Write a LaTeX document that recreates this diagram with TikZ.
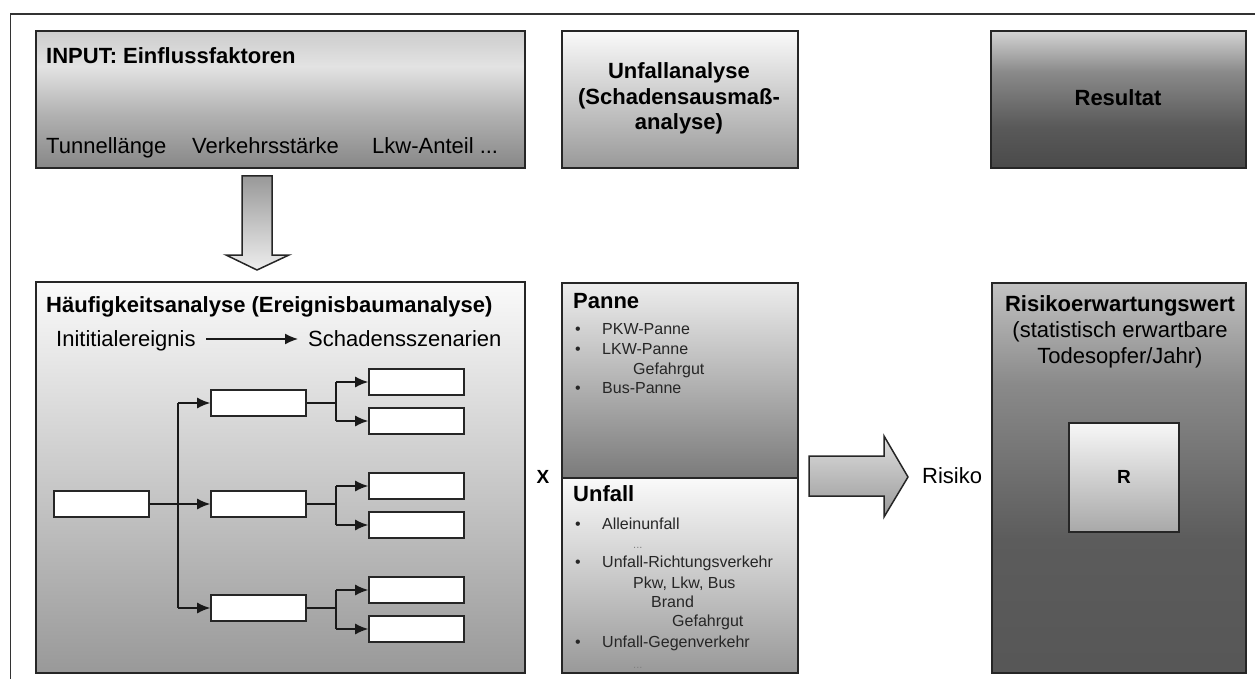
\documentclass[tikz,border=0pt]{standalone}
\usepackage{fontspec}
\setmainfont{Liberation Sans}
\usetikzlibrary{arrows.meta}
% vertical shadings: 25bp = bottom of path, 75bp = top of path
\pgfdeclareverticalshading{inshade}{100bp}{color(0bp)=(black!47); color(25bp)=(black!47); color(45bp)=(black!30); color(62bp)=(black!11); color(75bp)=(black!20); color(100bp)=(black!20)}
\pgfdeclareverticalshading{lightshade}{100bp}{color(0bp)=(black!40); color(25bp)=(black!40); color(75bp)=(black!2); color(100bp)=(black!2)}
\pgfdeclareverticalshading{resshade}{100bp}{color(0bp)=(black!71); color(25bp)=(black!71); color(40bp)=(black!65); color(60bp)=(black!46); color(75bp)=(black!17); color(100bp)=(black!17)}
\pgfdeclareverticalshading{panshade}{100bp}{color(0bp)=(black!52); color(25bp)=(black!52); color(75bp)=(black!7); color(100bp)=(black!7)}
\pgfdeclareverticalshading{riskshade}{100bp}{color(0bp)=(black!66); color(25bp)=(black!66); color(42bp)=(black!64); color(62bp)=(black!46); color(75bp)=(black!24); color(100bp)=(black!24)}
\pgfdeclareverticalshading{rboxshade}{100bp}{color(0bp)=(black!34); color(25bp)=(black!34); color(75bp)=(black!3); color(100bp)=(black!3)}
\pgfdeclareverticalshading{downshade}{100bp}{color(0bp)=(black!7); color(25bp)=(black!7); color(75bp)=(black!40); color(100bp)=(black!40)}
\pgfdeclareverticalshading{rightshade}{100bp}{color(0bp)=(black!40); color(25bp)=(black!40); color(75bp)=(black!13); color(100bp)=(black!13)}
\begin{document}
\begin{tikzpicture}[x=1pt,y=-1pt,
  bx/.style={draw=black!85, line width=1.7pt, inner sep=0pt, anchor=north west, shade, shading=#1},
  tb/.style={draw=black!85, line width=1.6pt, fill=white, inner sep=0pt, minimum width=95pt, minimum height=26pt},
  lbl/.style={inner sep=0pt, anchor=base west, font=\fontsize{22}{26}\selectfont},
  lblb/.style={inner sep=0pt, anchor=base west, font=\fontsize{22}{26}\selectfont\bfseries},
  ctr/.style={inner sep=0pt, anchor=base, font=\fontsize{22}{26}\selectfont},
  ctrb/.style={inner sep=0pt, anchor=base, font=\fontsize{22}{26}\selectfont\bfseries},
  itm/.style={inner sep=0pt, anchor=base west, font=\fontsize{16}{19}\selectfont, text=black!85},
  dots/.style={inner sep=0pt, anchor=base west, font=\fontsize{11}{13}\selectfont, text=black!50},
  ln/.style={line width=1.5pt, draw=black!90},
  ar/.style={ln, -{Latex[length=13pt,width=11pt]}},
  blk/.style={draw=black!85, line width=1.5pt, line join=miter, shade, shading=#1}]
\useasboundingbox (0,0) rectangle (1255,679);
\draw[line width=1.5pt, black!80] (10.5,679) -- (10.5,14) -- (1255,14);

% top row boxes
\node[bx=inshade, minimum width=489pt, minimum height=137pt] (inp) at (35,30) {};
\node[bx=lightshade, minimum width=236pt, minimum height=137pt] (ua) at (561,30) {};
\node[bx=resshade, minimum width=255pt, minimum height=137pt] (res) at (990,30) {};

\node[lblb] (tin) at (46,63.3) {INPUT: Einflussfaktoren};
\node[lbl] (f1) at (46,154) {Tunnellänge};
\node[lbl] (f2) at (192,154) {Verkehrsstärke};
\node[lbl] (f3) at (372,154) {Lkw-Anteil ...};

\node[ctrb] (ua1) at (679,79) {Unfallanalyse};
\node[ctrb] (ua2) at (679,104.5) {(Schadensausmaß-};
\node[ctrb] (ua3) at (679,130) {analyse)};
\node[ctrb] (rest) at (1118,106) {Resultat};

% down arrow
\path[blk=downshade] (242,176) -- (272,176) -- (272,255) -- (289,255) -- (257,270) -- (226,255) -- (242,255) -- cycle;

% bottom row boxes
\node[bx=lightshade, minimum width=489pt, minimum height=391pt] (hauf) at (35,281) {};
\node[bx=panshade, minimum width=236pt, minimum height=195pt] (pan) at (561,282) {};
\node[bx=lightshade, minimum width=236pt, minimum height=195pt] (unf) at (561,477) {};
\node[bx=riskshade, minimum width=254pt, minimum height=390pt] (risk) at (991,282) {};
\node[bx=rboxshade, minimum width=110pt, minimum height=109pt] (rbox) at (1068,422) {};

% Haeufigkeitsanalyse
\node[lblb] (ht) at (46,312.7) {Häufigkeitsanalyse (Ereignisbaumanalyse)};
\node[lbl] (ini) at (56,346.7) {Inititialereignis};
\node[lbl] (sch) at (308,346.7) {Schadensszenarien};
\coordinate (ia) at (206,339);
\coordinate (ib) at (298,339);
\draw[ar] (ia) -- (ib);

% event tree
\node[tb] (root) at (101.5,504) {};
\node[tb] (m1) at (258.5,403) {};
\node[tb] (m2) at (258.5,504) {};
\node[tb] (m3) at (258.5,608) {};
\node[tb] (l1) at (416.5,382) {};
\node[tb] (l2) at (416.5,421) {};
\node[tb] (l3) at (416.5,486) {};
\node[tb] (l4) at (416.5,525) {};
\node[tb] (l5) at (416.5,590) {};
\node[tb] (l6) at (416.5,629) {};
\coordinate (tr) at (178,504);
\coordinate (b1) at (336,403);
\coordinate (b2) at (336,504);
\coordinate (b3) at (336,608);
\draw[ar] (root.east) -- (m2.west);
\draw[ln] (tr |- m1) -- (tr |- m3);
\draw[ar] (tr |- m1) -- (m1.west);
\draw[ar] (tr |- m3) -- (m3.west);
\draw[ln] (m1.east) -- (b1);
\draw[ln] (m2.east) -- (b2);
\draw[ln] (m3.east) -- (b3);
\draw[ln] (b1 |- l1) -- (b1 |- l2);
\draw[ln] (b2 |- l3) -- (b2 |- l4);
\draw[ln] (b3 |- l5) -- (b3 |- l6);
\draw[ar] (b1 |- l1) -- (l1.west);
\draw[ar] (b1 |- l2) -- (l2.west);
\draw[ar] (b2 |- l3) -- (l3.west);
\draw[ar] (b2 |- l4) -- (l4.west);
\draw[ar] (b3 |- l5) -- (l5.west);
\draw[ar] (b3 |- l6) -- (l6.west);

% X
\node[inner sep=0pt, font=\fontsize{19}{22}\selectfont\bfseries] (xx) at (543,477) {X};

% Panne / Unfall
\node[lblb] (pt) at (573,308.3) {Panne};
\node[itm] at (575,334) {•};
\node[itm] at (602,334) {PKW-Panne};
\node[itm] at (575,354) {•};
\node[itm] at (602,354) {LKW-Panne};
\node[itm] at (633,374) {Gefahrgut};
\node[itm] at (575,393) {•};
\node[itm] at (602,393) {Bus-Panne};

\node[lblb] (ut) at (573,501.7) {Unfall};
\node[itm] at (575,529) {•};
\node[itm] at (602,529) {Alleinunfall};
\node[dots] at (633,548) {...};
\node[itm] at (575,567) {•};
\node[itm] at (602,567) {Unfall-Richtungsverkehr};
\node[itm] at (633,588) {Pkw, Lkw, Bus};
\node[itm] at (651,607) {Brand};
\node[itm] at (672,626) {Gefahrgut};
\node[itm] at (575,647) {•};
\node[itm] at (602,647) {Unfall-Gegenverkehr};
\node[dots] at (633,668) {...};

% right arrow
\path[blk=rightshade] (809,456) -- (884,456) -- (884,436) -- (908,477) -- (884,517) -- (884,496) -- (809,496) -- cycle;
\node[lbl] (risiko) at (922,483.3) {Risiko};

% Risiko box
\node[ctrb] (rk1) at (1120,311.7) {Risikoerwartungswert};
\node[ctr] (rk2) at (1120,337.3) {(statistisch erwartbare};
\node[ctr] (rk3) at (1120,363.3) {Todesopfer/Jahr)};
\node[inner sep=0pt, font=\fontsize{19}{22}\selectfont\bfseries] (rr) at (rbox.center) {R};
\end{tikzpicture}
\end{document}
